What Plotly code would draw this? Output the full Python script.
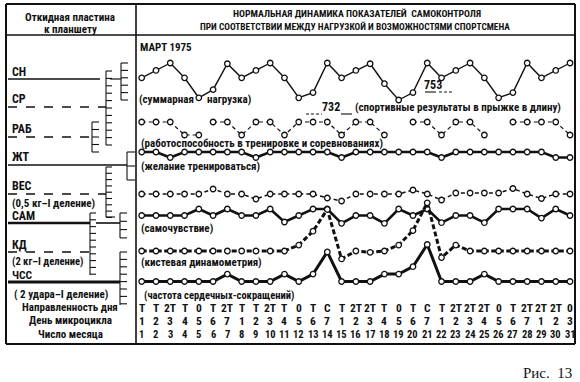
import plotly.graph_objects as go

W, H = 580, 382

# ---------------- data ----------------
days = list(range(1, 32))
direction = ["Т", "Т", "2Т", "Т", "0", "Т", "2Т", "Т", "Т", "2Т", "Т", "0", "Т", "С", "Т", "2Т",
             "2Т", "Т", "0", "Т", "С", "Т", "2Т", "2Т", "2Т", "0", "Т", "2Т", "2Т", "2Т", "0"]
micro_day = [1, 2, 3, 4, 5, 6, 7] * 4 + [1, 2, 3]
month_day = days

# values in scale divisions (relative to each series' own baseline)
sn = [3, 4, 5, 3, 0.3, 1.4, 4.9, 3, 4, 5, 3, 0.3, 1, 5, 3, 4, 4.9, 2.2, 0, 1,
      5, 3, 4, 5, 3, 0.3, 1, 5, 3, 4, 5]
rab = [2, 2, 2, 0, 0, 2, 2, 0, 2, 2, 0, 2, 2, 2, 0, 2, 2, 0, None, 2,
       2, 0, 2, 2, 0, None, 2, 2, 2, 2, 0]
rab_break_after = [5]
zht = [1, 1, 0, 1, 1, 1, 1, 1, 0, 1, 1, 1, 1, 1, 0, 1, 1, 1, 1, 1,
       1, 0, 1, 1, 1, 1, 1, 1, 1, 0, 0]
ves = [0, 0, 0, 0, 0, 1, 0, 0, -1, 0, 0, 0, 0, -0.8, -1.4, 0, 0, 0, 0, 0.8,
       0, -1.2, 0.2, 0.2, 0.2, 0.2, 1.1, 0, -0.9, 0, 0]
sam = [0, 0, 0, 0, 1, 0, 1, 0, 0, 1, -1, 0, 1, 1, -1.2, 0, 0, -1.2, 1, 0,
       1, -1.1, 0, 0, -1.1, 1, 1, 1, -0.4, 1, 0]
kd = [0, 0, 0, 0, 0, 0, 0, 0, 0, 0, 0, 0.9, 3, 6.3, -1.2, 0, -0.2, 0, 0.9, 3.1,
      7.3, -1, 0.9, 0, 0, 0, 0, 0, 0, 0, 0]
chss = [0, 0, 0, 0, 0, 0, 1, 0, 0, 0, 1, 0, 1, 4, 0, 0, 0, 1, 1, 2,
        5, 0, 0, 0, 1, 0, 0, 0, 0, 0, 0]

jump_results = ["732", "753"]

# ---------------- layout helpers ----------------
FONT = "Roboto Condensed, DejaVu Sans Condensed, sans-serif"
INK = "#111"
FS = 11

shapes = []
annotations = []


def px(x):
    return x / W


def py(y):
    return 1 - y / H


def line(x0, y0, x1, y1, w=1.2, dash="solid"):
    shapes.append(dict(type="line", xref="paper", yref="paper",
                       x0=px(x0), y0=py(y0), x1=px(x1), y1=py(y1),
                       line=dict(color=INK, width=w, dash=dash)))


def text(x, y, s, size=FS, anchor="left", family=FONT, weight="bold"):
    annotations.append(dict(xref="paper", yref="paper", x=px(x), y=py(y), text=s,
                            showarrow=False, xanchor=anchor, yanchor="middle",
                            font=dict(family=family, size=size, color=INK, weight=weight)))


def bracket(x, y0, y1, step, tl=6, w=1.1):
    line(x, y0, x, y1, w)
    y = y0
    while y <= y1 + 0.5:
        line(x, y, x + tl, y, w)
        y += step


# frame
line(6, 4, 575, 4, 2)
line(6, 344, 575, 344, 2)
line(6, 4, 6, 344, 2)
line(575, 4, 575, 344, 2)
line(6, 35, 575, 35, 1.6)
line(136, 4, 136, 344, 1.6)

# header texts
text(70, 17, "Откидная пластина", FS, "center")
text(70, 29, "к планшету", FS, "center")
text(357, 13, "НОРМАЛЬНАЯ ДИНАМИКА ПОКАЗАТЕЛЕЙ  САМОКОНТРОЛЯ", 9.8, "center")
text(355, 26, "ПРИ СООТВЕТСТВИИ МЕЖДУ НАГРУЗКОЙ И ВОЗМОЖНОСТЯМИ СПОРТСМЕНА", 9.4, "center")
text(138, 47, "МАРТ 1975", FS)

# left panel labels and lines
text(10, 72, "СН", 12)
line(8, 79, 100, 79, 1.3)
line(110, 79, 121, 79, 1.2)
text(10, 99, "СР", 12)
line(8, 107, 106, 107, 1.3, "dash")
text(10, 129, "РАБ", 12)
line(8, 137, 92, 137, 1.3, "dash")
text(10, 157, "ЖТ", 12)
line(8, 165, 127, 165, 1.5)
text(10, 186, "ВЕС", 12)
line(8, 194, 106, 194, 1.5, "dash")
text(10, 203, "(0,5 кг–I деление)", FS)
text(10, 216, "САМ", 12)
line(8, 223, 90, 223, 2.6)
line(96, 223, 120, 223, 1.6)
text(10, 245, "КД", 12)
line(8, 252, 90, 252, 1.6, "dash")
text(10, 261.5, "(2 кг–I деление)", 10.5)
text(10, 275, "ЧСС", 11.5)
line(8, 282, 120, 282, 3)
text(12, 294, "( 2 удара–I деление)", FS)

bracket(106, 71, 145, 7.4, 6)
bracket(121, 63, 100, 7.4, 7)
bracket(92, 122, 152, 7.5, 7)
bracket(127, 152, 180, 14, 8)
bracket(106, 167, 217, 6.3, 6)
line(106, 217, 115, 217, 1.1)
bracket(90, 213, 275, 6.8, 6)
bracket(120, 213, 238, 8.3, 7)
bracket(120, 252, 305, 7.4, 7)

# bottom table labels
text(70, 307, "Направленность дня", FS, "center")
text(70, 320, "День микроцикла", FS, "center")
text(70, 334, "Число месяца", FS, "center")

# chart captions
text(137, 100, "(суммарная", FS)
text(205, 100, "нагрузка)", FS)
text(331, 107, jump_results[0], 12, "center")
line(306, 114, 322, 114, 1.1, "3px,2px")
line(341, 114, 352, 114, 1.1)
text(353, 108, "(спортивные результаты в прыжке в длину)", FS)
text(433, 85, jump_results[1], 12, "center")
line(425, 92, 436, 92, 1.1)
line(439, 92, 453, 92, 1.1, "3px,2px")
text(139, 143, "(работоспособность в тренировке и соревнованиях)", FS)
text(139, 166, "(желание тренироваться)", FS)
text(139, 228, "(самочувствие)", FS)
text(139, 262, "(кистевая динамометрия)", FS)
text(142, 295, "(частота сердечных-сокращений)", 10.5)

text(574, 373, "Рис.  13", 15, "right", "Liberation Serif, Times New Roman, serif", "normal")

# ---------------- series ----------------
series = [
    # values, baseline px, px per division, width, dash
    (sn, 100, 7.4, 1.4, "solid", []),
    (rab, 135, 6.5, 1.2, "4px,3px", rab_break_after),
    (zht, 157.5, 5.5, 2.6, "solid", []),
    (ves, 194, 5.0, 1.5, "4px,3px", []),
    (sam, 215.5, 6.5, 2.6, "solid", []),
    (kd, 251, 6.6, 3.0, "5px,2.5px", []),
    (chss, 281.5, 7.4, 3.0, "solid", []),
]

fig = go.Figure()
for vals, base, step, w, dash, breaks in series:
    xs, ys = [], []
    for d, v in zip(days, vals):
        xs.append(d)
        ys.append(None if v is None else base - v * step)
        if d in breaks:
            xs.append(None)
            ys.append(None)
    fig.add_trace(go.Scatter(
        x=xs, y=ys, mode="lines+markers", connectgaps=False,
        line=dict(color=INK, width=w, dash=dash),
        marker=dict(symbol="circle", size=5.5, color="white",
                    line=dict(color=INK, width=1.3)),
        hoverinfo="skip", showlegend=False))

# bottom table rows (positioned with the day axis)
for d, a, b, c in zip(days, direction, micro_day, month_day):
    for y, s, fs in ((307.5, a, 11.5), (320.5, str(b), 11.5), (334, str(c), 10.5)):
        annotations.append(dict(xref="x", yref="y", x=d, y=y, text=s, showarrow=False,
                                xanchor="center", yanchor="middle",
                                font=dict(family=FONT, size=fs, color=INK, weight="bold")))

fig.update_layout(
    width=W, height=H, margin=dict(l=0, r=0, t=0, b=0),
    paper_bgcolor="white", plot_bgcolor="white",
    xaxis=dict(range=[1 - 141.7 / 14.277, 1 + (W - 141.7) / 14.277], visible=False, fixedrange=True),
    yaxis=dict(range=[H, 0], visible=False, fixedrange=True),
    shapes=shapes, annotations=annotations,
)
fig.write_html("out.html", post_script="document.body.style.margin='0';",
               config={"displayModeBar": False, "staticPlot": True})
